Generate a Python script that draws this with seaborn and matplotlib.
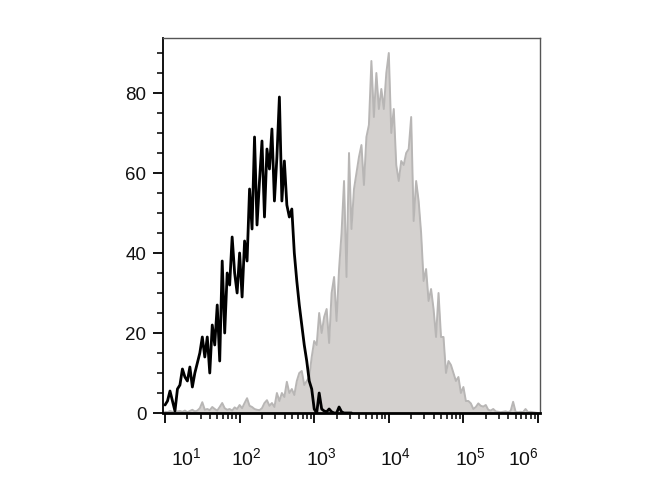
"""Flow cytometry overlay: isotype control (black) vs stained sample (grey fill)."""

import matplotlib
matplotlib.use("Agg")
import matplotlib.pyplot as plt
import matplotlib.transforms as mtransforms
from matplotlib.ticker import FixedLocator, LogLocator, NullFormatter
import numpy as np
import seaborn as sns

# channels: 30 per decade starting at 10^1
CHANNELS_PER_DECADE = 30
FIRST_DECADE = 1

# isotype control counts (black line)
control_counts = [
    2, 3, 5.5, 3, 0.5, 6, 7, 11, 9, 8,
    11.5, 6.5, 10, 12.5, 15, 19, 14, 19, 10, 22,
    17, 27, 13, 38, 20, 35, 32, 44, 35, 30,
    40, 29, 43, 38, 56, 46, 69, 47, 58, 68,
    49, 66, 61, 71, 53, 64, 79, 53, 63, 52,
    49, 51, 40, 33, 27, 22, 17, 13, 8, 6,
    1, 0, 5, 1, 0.5, 0.3, 1, 0.3, 0, 0,
    1.5, 0.3, 0, 0, 0, 0,
]

# stained sample counts (grey filled)
sample_counts = [
    0.3, 0.2, 0.5, 0.3, 0.2, 0.4, 0.5, 0.3, 0.6, 0.2,
    0.5, 0.8, 0.4, 0.6, 1.2, 2.7, 0.8, 1.0, 0.7, 1.5,
    1.0, 0.6, 1.5, 2.5, 1.2, 0.8, 1.0, 0.6, 1.4, 1.0,
    2.0, 1.2, 2.5, 3.7, 1.8, 1.5, 1.0, 0.8, 0.7, 1.2,
    2.5, 3.2, 1.8, 2.5, 1.5, 5, 3, 5, 4, 7.8,
    5, 6, 4.5, 8, 10, 10.5, 7, 8, 9, 14,
    18, 17, 25, 20, 24, 26, 17.5, 30, 34, 23,
    36, 45, 58, 34, 65, 46, 56, 60, 64, 67,
    57, 69, 72, 88, 74, 85, 76, 81, 76, 85,
    90, 70, 76, 62, 58, 63, 62, 65, 66, 74,
    48, 58, 53, 45, 33, 36, 28, 31, 26, 19,
    30, 19, 19, 10, 13, 12, 10, 8, 9, 5,
    6.5, 3, 3, 2.4, 1, 1.5, 2.4, 1.8, 1.6, 2,
    0.8, 0.6, 1, 0.4, 0.3, 0.2, 0.3, 0.4, 0.2, 0.5,
    2.8, 0.3, 0.2, 0.3, 0.2, 1, 0.2, 0.3, 0.2, 0.1,
    0,
]

y_ticks = [0, 20, 40, 60, 80]
x_decades = [1, 2, 3, 4, 5, 6]
# horizontal nudge of each decade label (pixels), as in the original export
x_label_shift_px = [21, 7, 7, 7, 7, -15]


def channel_values(counts):
    idx = np.arange(len(counts))
    return 10.0 ** (FIRST_DECADE + idx / CHANNELS_PER_DECADE)


def main():
    sns.set_theme(style="ticks")
    plt.rcParams["font.family"] = ["Liberation Sans", "DejaVu Sans"]

    fig = plt.figure(figsize=(6.7, 5), dpi=100)
    ax = fig.add_axes([163 / 670, 87 / 500, 377 / 670, 375 / 500])
    ax.set_xscale("log")

    xs = channel_values(sample_counts)
    ax.fill_between(xs, 0, sample_counts, color="#d4d1cf", linewidth=0, zorder=1)
    sns.lineplot(x=xs, y=sample_counts, ax=ax, color="#b8b6b5", linewidth=1.4,
                 sort=False, zorder=2)

    xc = channel_values(control_counts)
    sns.lineplot(x=xc, y=control_counts, ax=ax, color="black", linewidth=2.0,
                 sort=False, zorder=3)

    ax.set_xlim(10 ** 0.973, 10 ** 6.027)
    ax.set_ylim(0, 93.75)

    # y axis ticks
    ax.yaxis.set_major_locator(FixedLocator(y_ticks))
    ax.yaxis.set_minor_locator(FixedLocator(np.arange(0, 95, 5)))
    ax.set_yticklabels([str(v) for v in y_ticks])

    # x axis: log ticks, labels drawn by hand
    ax.xaxis.set_major_locator(FixedLocator([10.0 ** d for d in x_decades]))
    ax.xaxis.set_minor_locator(LogLocator(base=10, subs=np.arange(2, 10)))
    ax.xaxis.set_minor_formatter(NullFormatter())
    ax.tick_params(axis="x", which="both", labelbottom=False)

    ax.tick_params(axis="both", which="major", direction="out", length=7,
                   width=1.3, color="black", labelsize=13.5, pad=5)
    ax.tick_params(axis="both", which="minor", direction="out", length=4,
                   width=1.1, color="black")

    trans = mtransforms.blended_transform_factory(ax.transData, ax.transAxes)
    for d, shift in zip(x_decades, x_label_shift_px):
        off = mtransforms.ScaledTranslation(shift / 100, -52 / 100, fig.dpi_scale_trans)
        ax.text(10.0 ** d, 0, r"$\mathregular{10^{%d}}$" % d, transform=trans + off,
                ha="center", va="baseline", fontsize=14, color="#111111")

    for name in ["top", "right"]:
        ax.spines[name].set_color("#555555")
        ax.spines[name].set_linewidth(1.0)
    ax.spines["left"].set_color("black")
    ax.spines["left"].set_linewidth(1.3)
    ax.spines["bottom"].set_color("black")
    ax.spines["bottom"].set_linewidth(2.0)
    ax.spines["bottom"].set_zorder(4)

    for lab in ax.get_yticklabels():
        lab.set_color("#111111")

    fig.savefig("out.png", dpi=100)
    plt.close(fig)


if __name__ == "__main__":
    main()
